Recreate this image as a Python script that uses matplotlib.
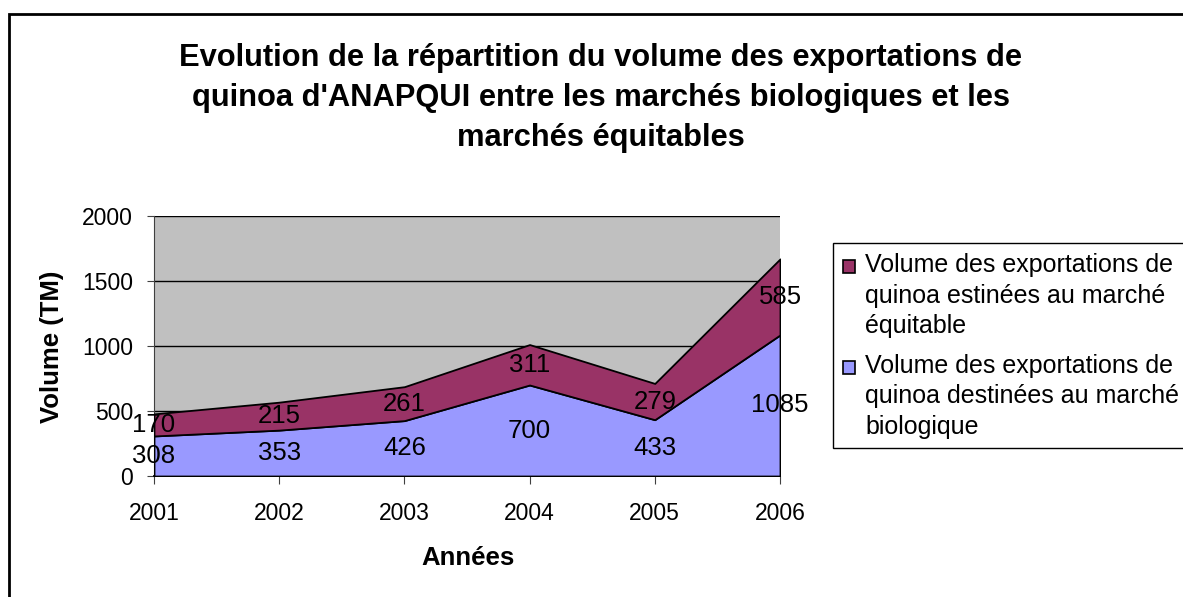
import matplotlib.pyplot as plt
from matplotlib.patches import Rectangle

plt.rcParams["font.family"] = ["Liberation Sans", "DejaVu Sans"]

# data
years = [2001, 2002, 2003, 2004, 2005, 2006]
bio = [308, 353, 426, 700, 433, 1085]        # marché biologique
equitable = [170, 215, 261, 311, 279, 585]   # marché équitable

labels = [
    "Volume des exportations de\nquinoa estinées au marché\néquitable",
    "Volume des exportations de\nquinoa destinées au marché\nbiologique",
]
col_bio = "#9999FF"
col_eq = "#993366"

W, H = 1183, 597
fig = plt.figure(figsize=(W / 100, H / 100), dpi=100)
ax = fig.add_axes([154 / W, 1 - 476 / H, 626 / W, 260 / H])
ax.set_facecolor("#C0C0C0")

ax.stackplot(years, bio, equitable, colors=[col_bio, col_eq],
             edgecolor="black", linewidth=1.3, zorder=3)

ax.set_xlim(years[0], years[-1])
ax.set_ylim(0, 2000)
ax.set_yticks(range(0, 2001, 500))
ax.set_xticks(years)
ax.grid(axis="y", color="black", linewidth=1, zorder=1)
ax.set_axisbelow(True)
for s in ["top", "right"]:
    ax.spines[s].set_visible(False)
ax.spines["left"].set_color("#404040")
ax.spines["bottom"].set_linewidth(1.3)
ax.tick_params(axis="y", labelsize=16.5, length=5, pad=10, color="#404040")
ax.tick_params(axis="x", labelsize=16.5, length=6, pad=13, color="#404040")

# value labels in the middle of each band
for x, b, e in zip(years, bio, equitable):
    ax.text(x, b / 2, str(b), ha="center", va="center", fontsize=18.5,
            zorder=5, clip_on=False)
    ax.text(x, b + e / 2, str(e), ha="center", va="center", fontsize=18.5,
            zorder=5, clip_on=False)

fig.text(601 / W, 1 - 98 / H,
         "Evolution de la répartition du volume des exportations de\n"
         "quinoa d'ANAPQUI entre les marchés biologiques et les\n"
         "marchés équitables",
         ha="center", va="center", fontsize=22.2, fontweight="bold",
         linespacing=1.43)
fig.text(52 / W, 1 - 347 / H, "Volume (TM)", rotation=90, ha="center",
         va="center", fontsize=18.5, fontweight="bold")
fig.text(468 / W, 1 - 558 / H, "Années", ha="center", va="center",
         fontsize=18.5, fontweight="bold")

# legend drawn by hand so the squares sit on the first line
fig.patches.append(Rectangle((833 / W, 1 - 448 / H), 0.5, 205 / H,
                             transform=fig.transFigure, facecolor="white",
                             edgecolor="black", linewidth=1))
for lab, col, base in zip(labels, [col_eq, col_bio], [272, 373]):
    fig.patches.append(Rectangle((843 / W, 1 - (base + 1) / H), 12 / W, 13 / H,
                                 transform=fig.transFigure, facecolor=col,
                                 edgecolor="black", linewidth=1.2))
    for i, line in enumerate(lab.split("\n")):
        fig.text(865 / W, 1 - (base + 30.5 * i) / H, line, ha="left",
                 va="baseline", fontsize=18)

# outer chart border
fig.patches.append(Rectangle((9 / W, -0.1), 1.2, 1 - 14 / H + 0.1,
                             transform=fig.transFigure, fill=False,
                             edgecolor="black", linewidth=2))

fig.savefig("out.png", dpi=100)
